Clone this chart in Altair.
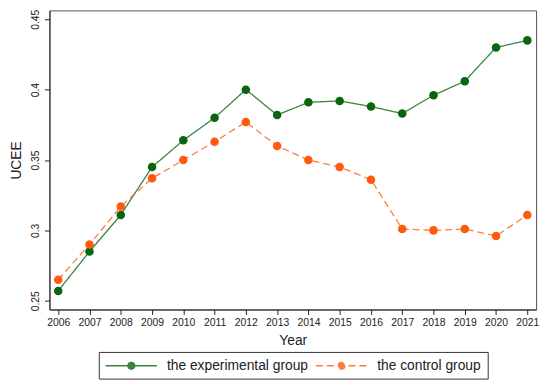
import altair as alt
import pandas as pd

years = list(range(2006, 2022))
experimental = [0.257, 0.285, 0.311, 0.345, 0.364, 0.380, 0.400, 0.382, 0.391, 0.392,
                0.388, 0.383, 0.396, 0.406, 0.430, 0.435]
control = [0.265, 0.290, 0.317, 0.337, 0.350, 0.363, 0.377, 0.360, 0.350, 0.345,
           0.336, 0.301, 0.300, 0.301, 0.296, 0.311]
groups = ["the experimental group", "the control group"]
colors = ["#0b6410", "#ff5a0f"]
y_ticks = [0.25, 0.3, 0.35, 0.4, 0.45]

rows = []
for i, y in enumerate(years):
    rows.append({"Year": y, "UCEE": experimental[i], "group": groups[0]})
    rows.append({"Year": y, "UCEE": control[i], "group": groups[1]})
df = pd.DataFrame(rows)

# legend symbol: horizontal line with a dot in the middle (unit = 7px)
sym = "M-1,0 L6.43,0 M2.21,0 A0.5,0.5 0 1,1 3.21,0 A0.5,0.5 0 1,1 2.21,0 Z"

legend = alt.Legend(title=None, orient="none", legendX=50, legendY=346,
                    direction="horizontal", symbolType=sym, symbolSize=196,
                    symbolStrokeWidth=1.3, labelFontSize=14,
                    labelFont="Liberation Sans", labelColor="#222",
                    strokeColor="#333", padding=6, columnPadding=4,
                    labelOffset=47, labelLimit=300)

x = alt.X("Year:Q", scale=alt.Scale(domain=[2005.72, 2021.28], nice=False, zero=False),
          axis=alt.Axis(values=years, format="d", title="Year", grid=False,
                        labelFontSize=10.5, titleFontSize=14, titleFontWeight="normal",
                        labelColor="#222", titleColor="#222", domainColor="#222",
                        tickColor="#222", tickSize=5, labelPadding=3, titlePadding=6,
                        labelFlush=False, labelFont="Liberation Sans", titleFont="Liberation Sans"))
y = alt.Y("UCEE:Q", scale=alt.Scale(domain=[0.2438, 0.4563], nice=False, zero=False),
          axis=alt.Axis(values=y_ticks, format="~g", title="UCEE", grid=False,
                        labelAngle=270, labelAlign="center", labelBaseline="bottom",
                        labelFontSize=10.5, titleFontSize=14, titleFontWeight="normal",
                        labelColor="#222", titleColor="#222", domainColor="#222",
                        tickColor="#222", tickSize=5, labelPadding=4,
                        titleX=-29, titleY=151.5, titleAngle=270, titleAlign="center",
                        titleBaseline="alphabetic",
                        labelFont="Liberation Sans", titleFont="Liberation Sans"))

color = alt.Color("group:N", scale=alt.Scale(domain=groups, range=colors), legend=legend)
dash = alt.StrokeDash("group:N", scale=alt.Scale(domain=groups, range=[[1, 0], [7, 4]]),
                      legend=legend)

lines = alt.Chart(df).mark_line(strokeWidth=1.3, opacity=0.8).encode(
    x=x, y=y, color=color, strokeDash=dash)
points = alt.Chart(df).mark_point(filled=True, size=75, opacity=1, shape="circle").encode(
    x=x, y=y, color=color)

chart = alt.layer(lines, points).properties(
    width=493, height=303,
    autosize=alt.AutoSizeParams(type="none"),
    padding={"left": 42, "top": 0, "right": 6, "bottom": 70},
).configure_view(stroke="#555", strokeWidth=1)

chart.save("out.html", embed_options={"renderer": "svg", "actions": False})
